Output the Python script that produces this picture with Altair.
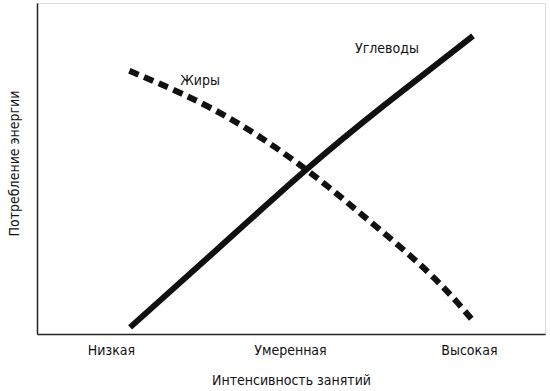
import altair as alt
import pandas as pd

FONT = "DejaVu Sans Condensed, Liberation Sans Narrow, sans-serif"

# Category positions on the intensity axis
tick_values = [1, 2, 3]
tick_labels = ["Низкая", "Умеренная", "Высокая"]

# Carbohydrates (solid) curve
carb_x = [1.107, 1.594, 2.092, 2.531, 3.023]
carb_y = [2.0, 25.6, 49.7, 69.3, 90.1]

# Fats (dashed) curve
fat_x = [1.103, 1.40, 1.73, 2.09, 2.41, 2.77, 3.028]
fat_y = [79.5, 72.5, 63.0, 49.7, 35.7, 18.8, 3.7]

# Curve labels
label_text = ["Жиры", "Углеводы"]
label_x = [1.498, 2.542]
label_y = [76.4, 86.1]

carb = pd.DataFrame({"x": carb_x, "y": carb_y})
fat = pd.DataFrame({"x": fat_x, "y": fat_y})
labels = pd.DataFrame({"x": label_x, "y": label_y, "t": label_text})

label_expr = (
    f"datum.value == 1 ? '{tick_labels[0]}' : "
    f"datum.value == 2 ? '{tick_labels[1]}' : '{tick_labels[2]}'"
)

xs = alt.Scale(domain=[0.587, 3.425], nice=False, zero=False)
ys = alt.Scale(domain=[0, 100], nice=False, zero=False)

xaxis = alt.Axis(
    values=tick_values, labelExpr=label_expr, ticks=False, grid=False,
    domainColor="#222", domainWidth=1.5, labelFont=FONT, labelFontSize=14,
    labelColor="#111", labelPadding=9, title="Интенсивность занятий",
    titleFont=FONT, titleFontSize=14, titleFontWeight="normal", titleColor="#111",
    titleY=46, titleBaseline="middle",
)
yaxis = alt.Axis(
    labels=False, ticks=False, grid=False, domainColor="#222", domainWidth=1.5,
    title="Потребление энергии", titleFont=FONT, titleFontSize=14,
    titleFontWeight="normal", titleColor="#111", titleX=-23, titleY=160,
    titleBaseline="middle", titleAlign="center", titleAngle=-90,
)

solid = alt.Chart(carb).mark_line(
    color="#111", strokeWidth=6, interpolate="natural", strokeCap="butt"
).encode(
    x=alt.X("x:Q", scale=xs, axis=xaxis),
    y=alt.Y("y:Q", scale=ys, axis=yaxis),
)

dashed = alt.Chart(fat).mark_line(
    color="#111", strokeWidth=6, interpolate="natural", strokeDash=[10, 6], strokeCap="butt"
).encode(
    x=alt.X("x:Q", scale=xs),
    y=alt.Y("y:Q", scale=ys),
)

text = alt.Chart(labels).mark_text(
    font=FONT, fontSize=14, color="#111", align="center", baseline="middle"
).encode(
    x=alt.X("x:Q", scale=xs),
    y=alt.Y("y:Q", scale=ys),
    text="t:N",
)

chart = alt.layer(solid, dashed, text).properties(
    width=508, height=331,
    autosize=alt.AutoSizeParams(type="none"),
    padding={"left": 37, "top": 3, "right": 5, "bottom": 57},
).configure_view(stroke=None).configure(background="white")

chart.save("out.html", embed_options={"renderer": "svg", "actions": False})
